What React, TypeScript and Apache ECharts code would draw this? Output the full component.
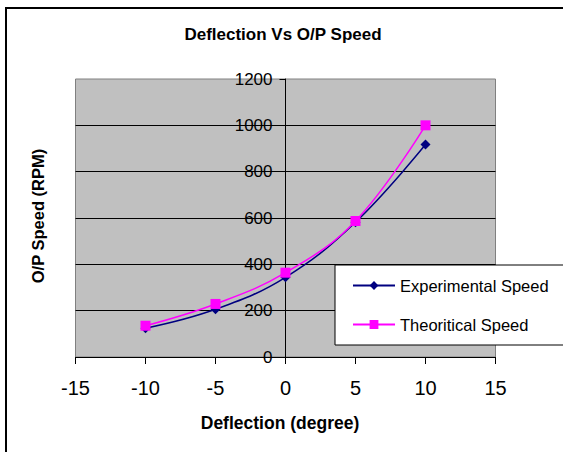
import React, { useEffect, useRef } from "react";
import * as echarts from "echarts";

const deflection = [-10, -5, 0, 5, 10];
const experimentalSpeed = [124, 206, 344, 582, 917];
const theoreticalSpeed = [135, 229, 364, 587, 1000];
const seriesNames = ["Experimental Speed", "Theoritical Speed"];
const titleText = "Deflection Vs O/P Speed";
const xAxisTitle = "Deflection (degree)";
const yAxisTitle = "O/P Speed (RPM)";

const FONT = "'Liberation Sans', Arial, sans-serif";

export default function App() {
  const ref = useRef<HTMLDivElement>(null);
  useEffect(() => {
    if (!ref.current) return;
    const chart = echarts.init(ref.current, undefined, { renderer: "svg" });
    chart.setOption({
      animation: false,
      backgroundColor: "#fff",
      graphic: [
        {
          type: "line",
          shape: { x1: 6, y1: 7, x2: 6, y2: 460 },
          style: { stroke: "#000", lineWidth: 2 },
          z: 100,
        },
        {
          type: "line",
          shape: { x1: 5, y1: 8, x2: 570, y2: 8 },
          style: { stroke: "#000", lineWidth: 2 },
          z: 100,
        },
        {
          type: "text",
          x: 283,
          y: 34,
          style: {
            text: titleText,
            font: `bold 17px ${FONT}`,
            fill: "#000",
            textAlign: "center",
            textVerticalAlign: "middle",
          },
        },
        {
          type: "text",
          x: 280,
          y: 423,
          style: {
            text: xAxisTitle,
            font: `bold 17.5px ${FONT}`,
            fill: "#000",
            textAlign: "center",
            textVerticalAlign: "middle",
          },
        },
        {
          type: "text",
          x: 38,
          y: 216,
          rotation: Math.PI / 2,
          style: {
            text: yAxisTitle,
            font: `bold 16.5px ${FONT}`,
            fill: "#000",
            textAlign: "center",
            textVerticalAlign: "middle",
          },
        },
      ],
      grid: {
        left: 75.5,
        right: 67.5,
        top: 79,
        bottom: 95,
        show: true,
        backgroundColor: "#C0C0C0",
        borderColor: "#808080",
        borderWidth: 1,
      },
      xAxis: {
        type: "value",
        min: -15,
        max: 15,
        interval: 5,
        axisLine: { show: true, lineStyle: { color: "#000", width: 1 } },
        axisTick: { show: true, length: 7, lineStyle: { color: "#000" } },
        axisLabel: { fontSize: 20, color: "#000", margin: 21, fontFamily: FONT },
        splitLine: { show: false },
      },
      yAxis: {
        type: "value",
        min: 0,
        max: 1200,
        interval: 200,
        position: "left",
        offset: -210,
        axisLine: { show: true, onZero: false, lineStyle: { color: "#000", width: 1 } },
        axisTick: { show: true, length: 6, lineStyle: { color: "#000" } },
        axisLabel: {
          fontSize: 17,
          color: "#000",
          margin: 13,
          fontFamily: FONT,
          formatter: (v: number) => String(v),
        },
        splitLine: {
          show: true,
          showMaxLine: false,
          showMinLine: false,
          lineStyle: { color: "#000", width: 1 },
        },
      },
      legend: {
        orient: "vertical",
        left: 335,
        top: 265,
        padding: [12, 17, 12, 17],
        itemWidth: 42,
        itemHeight: 11,
        itemGap: 22,
        itemTextGap: 6,
        backgroundColor: "#fff",
        borderColor: "#000",
        borderWidth: 1,
        textStyle: { fontSize: 16.5, color: "#000", fontFamily: FONT },
        data: seriesNames,
      },
      series: [
        {
          name: seriesNames[0],
          type: "line",
          smooth: 0.4,
          data: deflection.map((d, i) => [d, experimentalSpeed[i]]),
          symbol: "diamond",
          symbolSize: 10,
          lineStyle: { color: "#000080", width: 1.5 },
          itemStyle: { color: "#000080" },
        },
        {
          name: seriesNames[1],
          type: "line",
          smooth: 0.4,
          data: deflection.map((d, i) => [d, theoreticalSpeed[i]]),
          symbol: "rect",
          symbolSize: 10,
          lineStyle: { color: "#FF00FF", width: 1.5 },
          itemStyle: { color: "#FF00FF" },
        },
      ],
    });
    return () => chart.dispose();
  }, []);
  return (
    <div
      ref={ref}
      style={{ position: "fixed", left: 0, top: 0, width: 563, height: 452 }}
    />
  );
}
